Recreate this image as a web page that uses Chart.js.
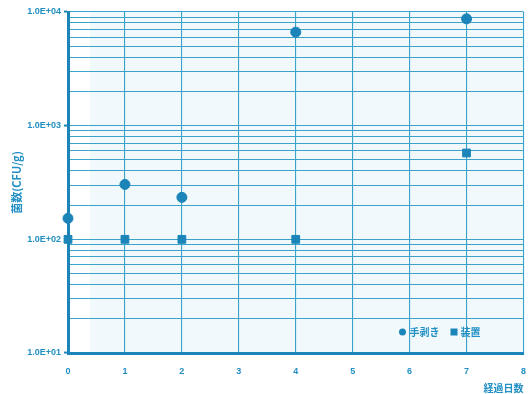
<html lang="ja">
<head>
<meta charset="UTF-8">
<title>菌数の推移</title>
<script src="https://cdn.jsdelivr.net/npm/chart.js"></script>
<style>
  body { margin: 0; padding: 0; background: #ffffff; }
  #wrap { width: 530px; height: 394px; position: relative; }
</style>
</head>
<body>
<div id="wrap"><canvas id="chart" width="530" height="394"></canvas></div>
<script>
// data
const days = [0, 1, 2, 4, 7];
const handValues = [153, 304, 234, 6650, 8700];   // 手剥き
const machineValues = [100, 100, 100, 100, 575];  // 装置
const yTickLabels = { 10: '1.0E+01', 100: '1.0E+02', 1000: '1.0E+03', 10000: '1.0E+04' };

const blue = '#1b84b8';
const gridBlue = '#3ba2c9';
const textBlue = '#2290c4';

// bottom-right legend drawn inside the plot
const legendPlugin = {
  id: 'innerLegend',
  afterDatasetsDraw(chart) {
    const ctx = chart.ctx;
    const x = chart.chartArea.right - 124, y = chart.chartArea.bottom - 21;
    ctx.save();
    ctx.fillStyle = blue;
    ctx.beginPath();
    ctx.arc(x + 3, y, 3.5, 0, Math.PI * 2);
    ctx.fill();
    ctx.font = 'bold 10px "Noto Sans CJK JP"';
    ctx.fillStyle = textBlue;
    ctx.textBaseline = 'middle';
    ctx.fillText('手剥き', x + 10, y);
    ctx.fillStyle = blue;
    ctx.fillRect(x + 51, y - 3.5, 7, 7);
    ctx.fillStyle = textBlue;
    ctx.fillText('装置', x + 61, y);
    ctx.restore();
  }
};

const paperPlugin = {
  id: 'paper',
  beforeDraw(chart) {
    const a = chart.chartArea, ctx = chart.ctx;
    ctx.save();
    ctx.fillStyle = '#f1f9fc';
    ctx.fillRect(a.left + 22, a.top, a.right - a.left - 22, a.bottom - a.top);
    ctx.restore();
  }
};

new Chart(document.getElementById('chart'), {
  type: 'scatter',
  data: {
    datasets: [
      {
        label: '手剥き',
        data: days.map((d, i) => ({ x: d, y: handValues[i] })),
        pointStyle: 'circle',
        pointRadius: 5,
        backgroundColor: blue,
        borderColor: blue,
        clip: false
      },
      {
        label: '装置',
        data: days.map((d, i) => ({ x: d, y: machineValues[i] })),
        pointStyle: 'rect',
        pointRadius: 5.5,
        backgroundColor: blue,
        borderColor: blue,
        clip: false
      }
    ]
  },
  options: {
    responsive: false,
    animation: false,
    layout: { padding: { left: 10, right: 0, top: 12, bottom: 0 } },
    plugins: { legend: { display: false }, tooltip: { enabled: false } },
    scales: {
      x: {
        type: 'linear',
        min: 0,
        max: 8,
        ticks: {
          stepSize: 1,
          color: textBlue,
          font: { family: 'Liberation Sans', size: 9, weight: 'bold' },
          padding: 13
        },
        grid: { color: gridBlue, lineWidth: 1.1, drawTicks: false },
        border: { color: blue, width: 3 },
        title: {
          display: true,
          text: '経過日数',
          align: 'end',
          color: textBlue,
          font: { family: 'Noto Sans CJK JP', size: 10, weight: 'bold' },
          padding: { top: 0, bottom: 0 }
        },
        afterFit(scale) {
          scale.height = 41;
          scale.paddingRight = 3;
          scale.paddingLeft = 0;
        }
      },
      y: {
        type: 'logarithmic',
        min: 10,
        max: 10000,
        afterBuildTicks(scale) {
          const t = [];
          for (let p = 10; p < 10000; p *= 10) {
            for (let m = 1; m < 10; m++) t.push({ value: m * p, major: m === 1 });
          }
          t.push({ value: 10000, major: true });
          scale.ticks = t;
        },
        ticks: {
          autoSkip: false,
          color: textBlue,
          font: { family: 'Liberation Sans', size: 9, weight: 'bold' },
          padding: 3,
          callback: (v) => yTickLabels[v] || ''
        },
        grid: {
          color: gridBlue,
          lineWidth: 1.1,
          tickLength: 4,
          tickColor: (c) => (yTickLabels[c.tick && c.tick.value] ? blue : 'rgba(0,0,0,0)'),
          tickWidth: 2
        },
        border: { color: blue, width: 3 },
        title: {
          display: true,
          text: '菌数(CFU/g)',
          color: textBlue,
          font: { family: 'Noto Sans CJK JP', size: 11, weight: 'bold' },
          padding: { top: 0, bottom: 0 }
        },
        afterFit(scale) { scale.width = 58; }
      }
    }
  },
  plugins: [paperPlugin, legendPlugin]
});
</script>
</body>
</html>
